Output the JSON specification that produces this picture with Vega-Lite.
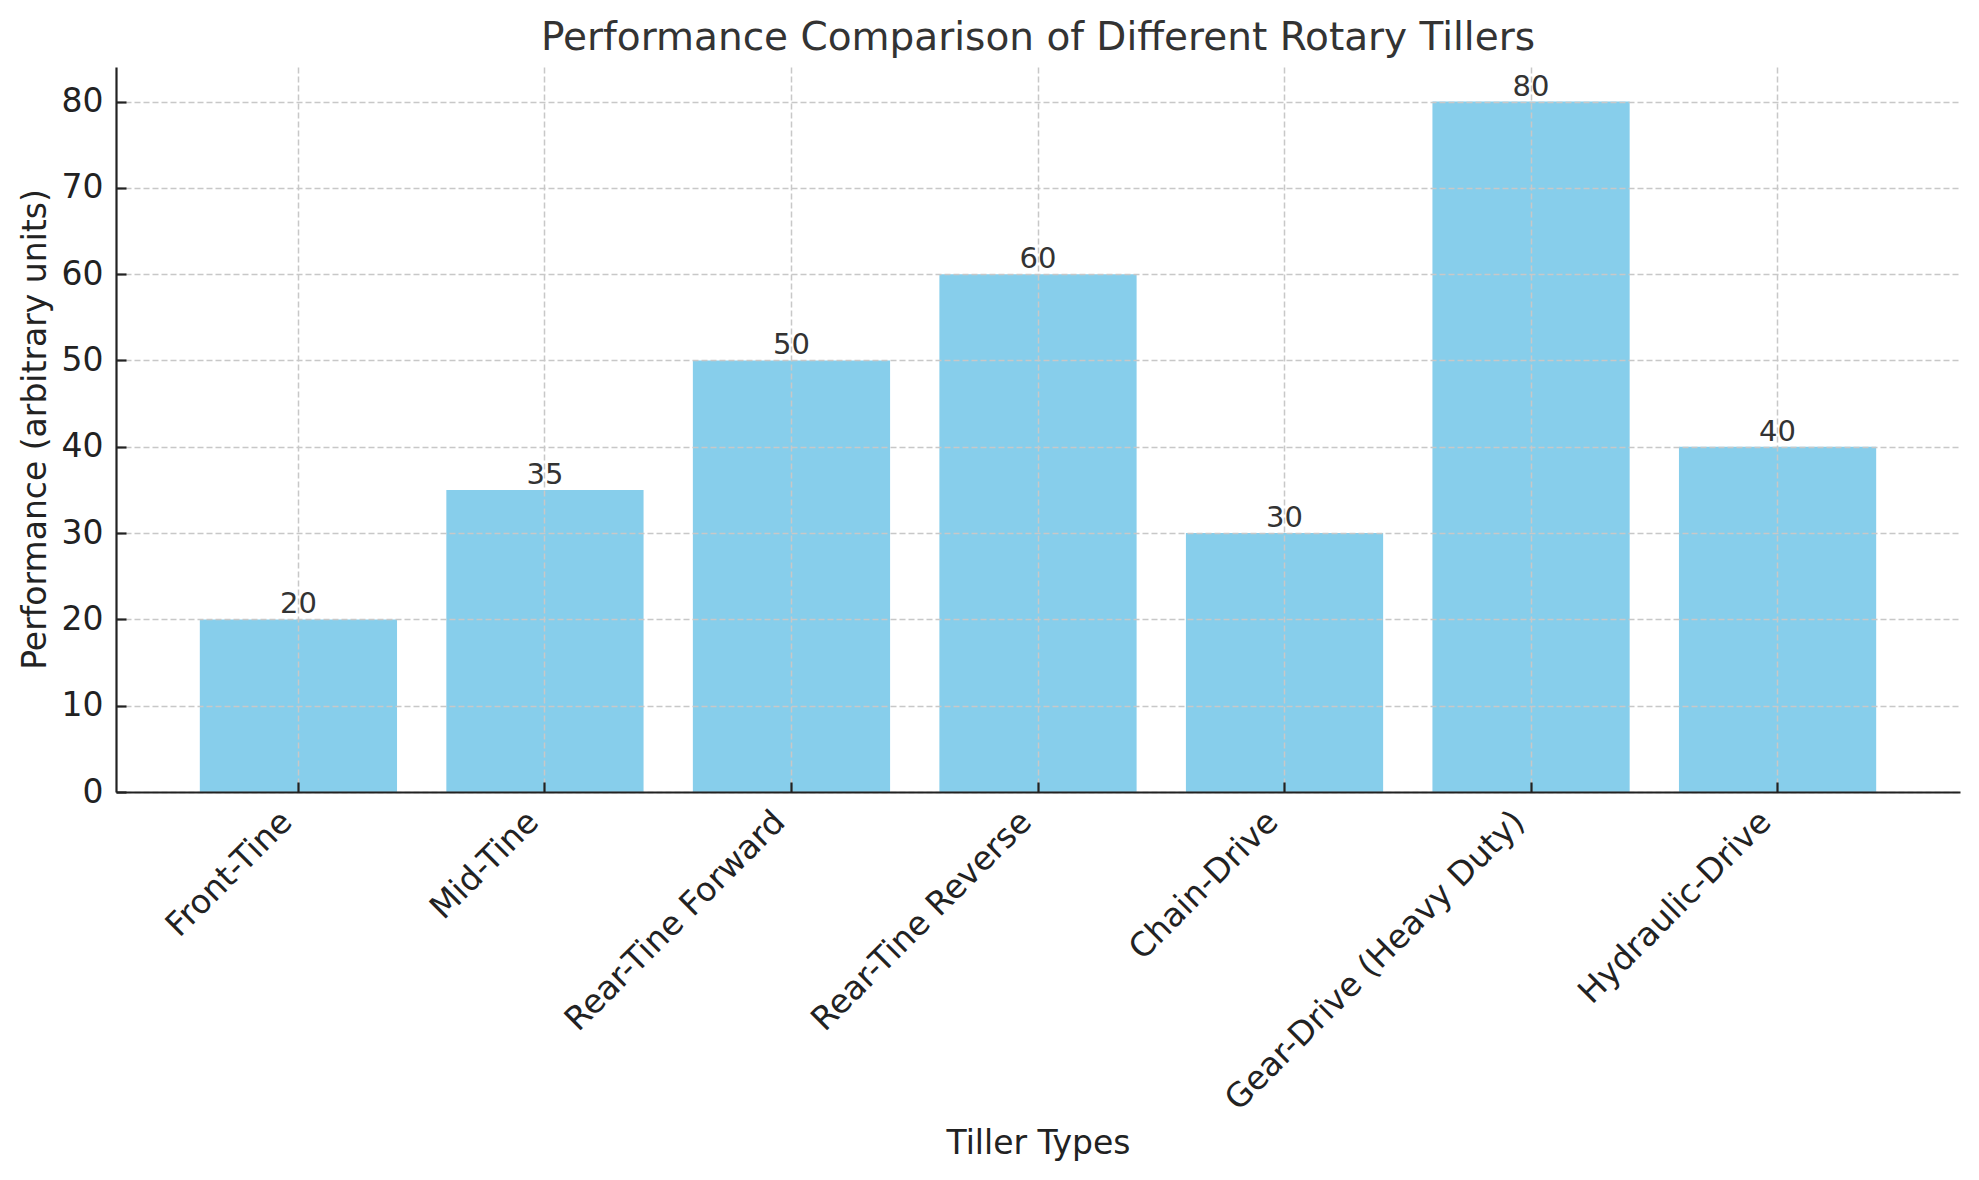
{
  "$schema": "https://vega.github.io/schema/vega-lite/v6.json",
  "width": 1844,
  "height": 725,
  "autosize": "none",
  "padding": {"left": 116, "top": 67, "right": 19, "bottom": 388},
  "background": "white",
  "config": {
    "view": {"stroke": null},
    "font": "DejaVu Sans"
  },
  "title": {
    "text": "Performance Comparison of Different Rotary Tillers",
    "font": "DejaVu Sans",
    "fontSize": 39,
    "fontWeight": "normal",
    "color": "#333333",
    "anchor": "middle",
    "baseline": "alphabetic",
    "offset": 17,
    "dy": 39
  },
  "data": {
    "values": [
      {"tiller": "Front-Tine", "performance": 20},
      {"tiller": "Mid-Tine", "performance": 35},
      {"tiller": "Rear-Tine Forward", "performance": 50},
      {"tiller": "Rear-Tine Reverse", "performance": 60},
      {"tiller": "Chain-Drive", "performance": 30},
      {"tiller": "Gear-Drive (Heavy Duty)", "performance": 80},
      {"tiller": "Hydraulic-Drive", "performance": 40}
    ]
  },
  "encoding": {
    "x": {
      "field": "tiller",
      "type": "nominal",
      "sort": null,
      "scale": {"paddingInner": 0.2, "paddingOuter": 0.34},
      "axis": {
        "title": "Tiller Types",
        "titleFont": "DejaVu Sans",
        "titleFontSize": 33,
        "titleFontWeight": "normal",
        "titleColor": "#222222",
        "titleBaseline": "alphabetic",
        "titleY": 361,
        "labelFont": "DejaVu Sans",
        "labelFontSize": 33,
        "labelColor": "#222222",
        "labelAngle": -45,
        "labelAlign": "right",
        "labelBaseline": "top",
        "labelOffset": -23,
        "labelPadding": 23,
        "labelOverlap": false,
        "labelLimit": 0,
        "bandPosition": 0.5,
        "tickSize": -10,
        "tickWidth": 2.2,
        "tickColor": "#222222",
        "domainColor": "#222222",
        "domainWidth": 2.2,
        "grid": true,
        "gridColor": "#c8c8c8",
        "gridWidth": 1.5,
        "gridDash": [6, 3],
        "zindex": 1
      }
    },
    "y": {
      "field": "performance",
      "type": "quantitative",
      "scale": {"domain": [0, 84], "nice": false, "zero": true},
      "axis": {
        "title": "Performance (arbitrary units)",
        "titleFont": "DejaVu Sans",
        "titleFontSize": 33,
        "titleFontWeight": "normal",
        "titleColor": "#222222",
        "titleBaseline": "alphabetic",
        "titleAngle": -90,
        "titleX": -71,
        "titleY": 362,
        "values": [0, 10, 20, 30, 40, 50, 60, 70, 80],
        "labelFont": "DejaVu Sans",
        "labelFontSize": 33,
        "labelColor": "#222222",
        "labelPadding": 23,
        "tickSize": -10,
        "tickWidth": 2.2,
        "tickColor": "#222222",
        "domainColor": "#222222",
        "domainWidth": 2.2,
        "grid": true,
        "gridColor": "#c8c8c8",
        "gridWidth": 1.5,
        "gridDash": [6, 3],
        "zindex": 1
      }
    }
  },
  "layer": [
    {
      "mark": {"type": "bar", "color": "#87CEEB"}
    },
    {
      "mark": {
        "type": "text",
        "font": "DejaVu Sans",
        "fontSize": 29,
        "color": "#333333",
        "baseline": "alphabetic",
        "align": "center",
        "dy": -6
      },
      "encoding": {
        "text": {"field": "performance", "type": "quantitative"}
      }
    }
  ]
}
